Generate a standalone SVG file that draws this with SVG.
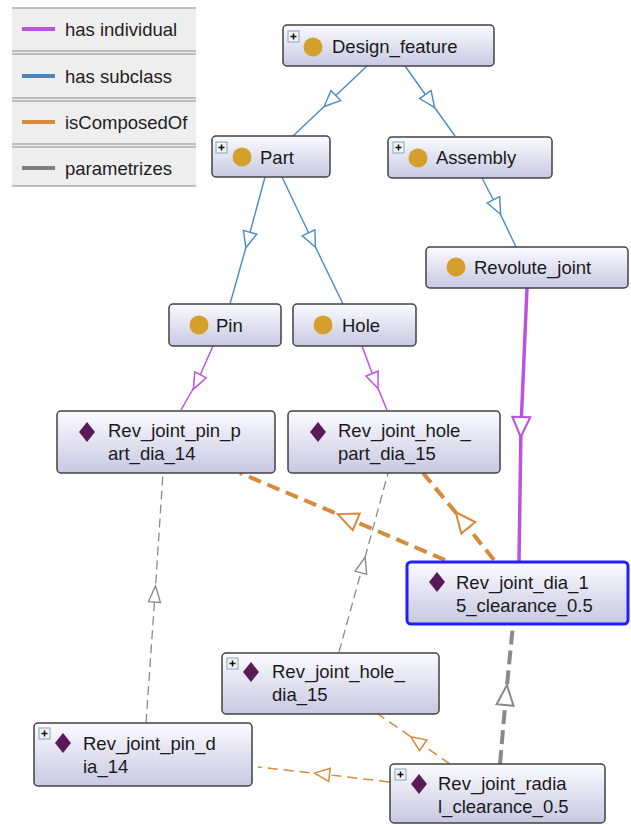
<svg xmlns="http://www.w3.org/2000/svg" width="631" height="825" viewBox="0 0 631 825">
<style>
.node rect.box{fill:url(#g);stroke:#414141;stroke-width:1.5}
.sel rect.box{stroke:#1f1fff;stroke-width:3}
text{font-family:"Liberation Sans",Arial,sans-serif;font-size:18.5px;fill:#1a1a1a}
.leg text{font-size:18.5px;fill:#222}
.cls{fill:#d4a02b}
.ind{fill:#5b1a57}
.sub{stroke:#4a8bc4;stroke-width:1.4;fill:none}
.hin{stroke:#bd52de;stroke-width:1.5;fill:none}
.hin2{stroke:#bd52de;stroke-width:3.5;fill:none}
.cmp{stroke:#d88a3a;stroke-width:4;fill:none;stroke-dasharray:13 7}
.cmp1{stroke:#d88a3a;stroke-width:1.5;fill:none;stroke-dasharray:10 6}
.par{stroke:#8a8a8a;stroke-width:1.3;fill:none;stroke-dasharray:9 5}
.par2{stroke:#8a8a8a;stroke-width:4;fill:none;stroke-dasharray:14 6}
</style>
<defs>
<linearGradient id="g" x1="0" y1="0" x2="0" y2="1">
<stop offset="0" stop-color="#fbfbff"/>
<stop offset="1" stop-color="#c8c8e3"/>
</linearGradient>
<marker id="aB" markerUnits="userSpaceOnUse" markerWidth="30" markerHeight="30" viewBox="-15 -15 30 30" refX="0" refY="0" orient="auto" overflow="visible">
<path d="M-8,-7 L8,0 L-8,7 Z" fill="#fff" stroke="#4a8bc4" stroke-width="1.4"/>
</marker>
<marker id="aM" markerUnits="userSpaceOnUse" markerWidth="30" markerHeight="30" viewBox="-15 -15 30 30" refX="0" refY="0" orient="auto" overflow="visible">
<path d="M-8,-6.5 L8,0 L-8,6.5 Z" fill="#fff" stroke="#bd52de" stroke-width="1.5"/>
</marker>
<marker id="aM2" markerUnits="userSpaceOnUse" markerWidth="30" markerHeight="30" viewBox="-15 -15 30 30" refX="0" refY="0" orient="auto" overflow="visible">
<path d="M-10,-9 L10,0 L-10,9 Z" fill="#fff" stroke="#bd52de" stroke-width="2"/>
</marker>
<marker id="aO" markerUnits="userSpaceOnUse" markerWidth="30" markerHeight="30" viewBox="-15 -15 30 30" refX="0" refY="0" orient="auto" overflow="visible">
<path d="M-10,-9 L10,0 L-10,9 Z" fill="#fff" stroke="#d88a3a" stroke-width="2"/>
</marker>
<marker id="aO1" markerUnits="userSpaceOnUse" markerWidth="30" markerHeight="30" viewBox="-15 -15 30 30" refX="0" refY="0" orient="auto" overflow="visible">
<path d="M-7.5,-6.5 L7.5,0 L-7.5,6.5 Z" fill="#fff" stroke="#d88a3a" stroke-width="1.5"/>
</marker>
<marker id="aG" markerUnits="userSpaceOnUse" markerWidth="30" markerHeight="30" viewBox="-15 -15 30 30" refX="0" refY="0" orient="auto" overflow="visible">
<path d="M-8,-6 L8,0 L-8,6 Z" fill="#fff" stroke="#8a8a8a" stroke-width="1.4"/>
</marker>
<marker id="aG2" markerUnits="userSpaceOnUse" markerWidth="30" markerHeight="30" viewBox="-15 -15 30 30" refX="0" refY="0" orient="auto" overflow="visible">
<path d="M-10,-8.5 L10,0 L-10,8.5 Z" fill="#fff" stroke="#8a8a8a" stroke-width="2"/>
</marker>
<g id="plus">
<rect x="0" y="0" width="11" height="11" fill="#f2f2f2" stroke="#7fa6c8" stroke-width="1"/>
<path d="M2.5,5.5 H8.5 M5.5,2.5 V8.5" stroke="#111" stroke-width="1.5"/>
</g>
</defs>

<rect width="631" height="825" fill="#ffffff"/>

<g id="legend" class="leg">
<rect x="12" y="8" width="184" height="178" fill="#eeeeee"/>
<g stroke="#ababab" stroke-width="1.5">
<line x1="12" y1="8" x2="196" y2="8"/>
<line x1="12" y1="51" x2="196" y2="51"/><line x1="12" y1="54" x2="196" y2="54"/>
<line x1="12" y1="98" x2="196" y2="98"/><line x1="12" y1="101" x2="196" y2="101"/>
<line x1="12" y1="144" x2="196" y2="144"/><line x1="12" y1="147" x2="196" y2="147"/>
<line x1="12" y1="186" x2="196" y2="186"/>
</g>
<line x1="22" y1="29" x2="55" y2="29" stroke="#bd52de" stroke-width="4"/>
<text x="65" y="36">has individual</text>
<line x1="22" y1="76" x2="55" y2="76" stroke="#4a86be" stroke-width="4"/>
<text x="65" y="83">has subclass</text>
<line x1="22" y1="122" x2="55" y2="122" stroke="#d88a3a" stroke-width="4"/>
<text x="65" y="129">isComposedOf</text>
<line x1="22" y1="168" x2="55" y2="168" stroke="#808080" stroke-width="4"/>
<text x="65" y="175">parametrizes</text>
</g>

<g id="connectors">
<path class="sub" d="M367,66 L330,101 L293,136" marker-mid="url(#aB)"/>
<path class="sub" d="M405,66 L430,101 L455,136" marker-mid="url(#aB)"/>
<path class="sub" d="M265,177 L248,240 L230,304" marker-mid="url(#aB)"/>
<path class="sub" d="M282,177 L312,240 L343,304" marker-mid="url(#aB)"/>
<path class="sub" d="M482,178 L497,207 L516,247" marker-mid="url(#aB)"/>
<path class="hin" d="M213,346 L197,382 L181,410" marker-mid="url(#aM)"/>
<path class="hin" d="M362,346 L375,381 L387,410" marker-mid="url(#aM)"/>
<path class="hin2" d="M527,288 L521,427 L519,561" marker-mid="url(#aM2)"/>
<path class="cmp" d="M445,560 L347,518 L240,473" marker-mid="url(#aO)"/>
<path class="cmp" d="M494,560 L462,520 L423,473" marker-mid="url(#aO)"/>
<path class="par" d="M146,723 L155,594 L163,473" marker-mid="url(#aG)"/>
<path class="par" d="M339,652 L363,565 L388,473" marker-mid="url(#aG)"/>
<path class="par2" d="M500,764 L506,695 L513,625" marker-mid="url(#aG2)"/>
<path class="cmp1" d="M450,764 L417,741 L378,714" marker-mid="url(#aO1)"/>
<path class="cmp1" d="M389,782 L322,774 L258,767" marker-mid="url(#aO1)"/>
</g>

<g id="n-design-feature" class="node">
<rect class="box" x="283" y="25" width="211" height="41" rx="4"/>
<use href="#plus" x="288" y="31"/>
<circle class="cls" cx="313" cy="47" r="9.5"/>
<text x="332" y="53">Design_feature</text>
</g>
<g id="n-part" class="node">
<rect class="box" x="212" y="136" width="118" height="41" rx="4"/>
<use href="#plus" x="216" y="142"/>
<circle class="cls" cx="242" cy="157" r="9.5"/>
<text x="260" y="164">Part</text>
</g>
<g id="n-assembly" class="node">
<rect class="box" x="388" y="137" width="164" height="41" rx="4"/>
<use href="#plus" x="393" y="142"/>
<circle class="cls" cx="418" cy="158" r="9.5"/>
<text x="436" y="164">Assembly</text>
</g>
<g id="n-revolute-joint" class="node">
<rect class="box" x="426" y="247" width="202" height="41" rx="4"/>
<circle class="cls" cx="456" cy="267" r="9.5"/>
<text x="474" y="274">Revolute_joint</text>
</g>
<g id="n-pin" class="node">
<rect class="box" x="169" y="304" width="112" height="42" rx="4"/>
<circle class="cls" cx="199" cy="325" r="9.5"/>
<text x="216" y="332">Pin</text>
</g>
<g id="n-hole" class="node">
<rect class="box" x="293" y="304" width="123" height="42" rx="4"/>
<circle class="cls" cx="323" cy="325" r="9.5"/>
<text x="342" y="332">Hole</text>
</g>
<g id="n-rev-joint-pin-part" class="node">
<rect class="box" x="57" y="411" width="218" height="62" rx="4"/>
<path class="ind" d="M87,422 L95,432 L87,442 L79,432 Z"/>
<text x="108" y="437">Rev_joint_pin_p</text>
<text x="108" y="460">art_dia_14</text>
</g>
<g id="n-rev-joint-hole-part" class="node">
<rect class="box" x="288" y="411" width="212" height="62" rx="4"/>
<path class="ind" d="M318,422 L326,432 L318,442 L310,432 Z"/>
<text x="338" y="437">Rev_joint_hole_</text>
<text x="338" y="460">part_dia_15</text>
</g>
<g id="n-rev-joint-dia-15-clearance" class="node sel">
<rect class="box" x="407" y="562" width="221" height="62" rx="4"/>
<path class="ind" d="M437,572 L445,582 L437,592 L429,582 Z"/>
<text x="456" y="589">Rev_joint_dia_1</text>
<text x="456" y="612">5_clearance_0.5</text>
</g>
<g id="n-rev-joint-hole-dia" class="node">
<rect class="box" x="222" y="653" width="217" height="61" rx="4"/>
<use href="#plus" x="227" y="658"/>
<path class="ind" d="M251,662 L259,672 L251,682 L243,672 Z"/>
<text x="272" y="678">Rev_joint_hole_</text>
<text x="272" y="701">dia_15</text>
</g>
<g id="n-rev-joint-pin-dia" class="node">
<rect class="box" x="34" y="723" width="218" height="63" rx="4"/>
<use href="#plus" x="39" y="728"/>
<path class="ind" d="M63,733 L71,743 L63,753 L55,743 Z"/>
<text x="83" y="750">Rev_joint_pin_d</text>
<text x="83" y="773">ia_14</text>
</g>
<g id="n-rev-joint-radial-clearance" class="node">
<rect class="box" x="390" y="764" width="215" height="59" rx="4"/>
<use href="#plus" x="395" y="769"/>
<path class="ind" d="M419,774 L427,784 L419,794 L411,784 Z"/>
<text x="438" y="790">Rev_joint_radia</text>
<text x="438" y="813">l_clearance_0.5</text>
</g>
</svg>
